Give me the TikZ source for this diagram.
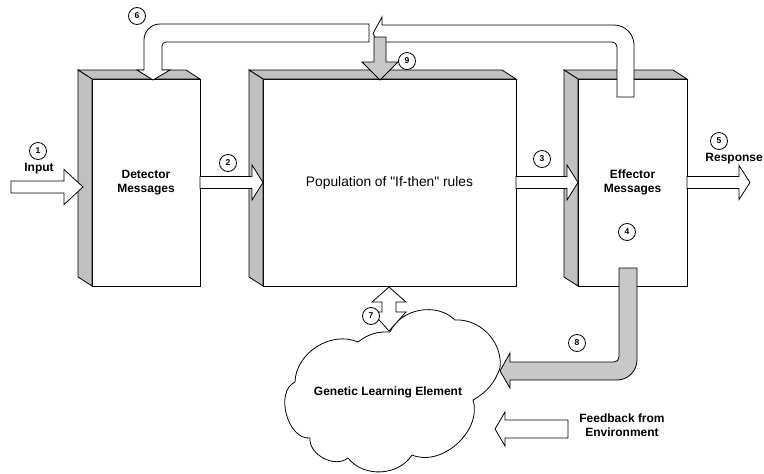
\documentclass[tikz,border=0pt]{standalone}
\usepackage{fontspec}
\setmainfont{Liberation Sans}[Ligatures=TeXOff]
\usetikzlibrary{calc}
\definecolor{sidegray}{RGB}{192,192,192}
\definecolor{dotgray}{RGB}{200,200,200}
\newcommand\rarrow[5]{\draw[blk] ($(#1)+(0,-#4)$) -- ($(#2)+(-#3,-#4)$) -- ($(#2)+(-#3,-#5)$) -- (#2) -- ($(#2)+(-#3,#5)$) -- ($(#2)+(-#3,#4)$) -- ($(#1)+(0,#4)$) -- cycle;}
\newcommand\bevelbox[1]{%
  \path[face] (#1.north west) -- ++(-14,-9) -- ($(#1.north east)+(-14,-9)$) -- (#1.north east) -- cycle;
  \path[face] (#1.north west) -- ++(-14,-9) -- ($(#1.south west)+(-14,-9)$) -- (#1.south west) -- cycle;}
\begin{document}
\begin{tikzpicture}[x=1pt,y=-1pt,line join=miter,
  box/.style={draw, fill=white, line width=0.8pt, rectangle, inner sep=0pt, outer sep=0pt, align=center},
  face/.style={draw, fill=sidegray, line width=0.8pt},
  blk/.style={draw, fill=white, line width=0.8pt},
  gblk/.style={draw, fill=dotgray, line width=0.8pt},
  numc/.style={circle, draw, fill=white, line width=0.8pt, minimum size=17pt, inner sep=0pt, font=\fontsize{8.5}{9}\selectfont\bfseries},
  lbl/.style={font=\fontsize{12}{14}\selectfont\bfseries, align=center, inner sep=0pt},
]
\useasboundingbox (0,0) rectangle (764,474);

% boxes
\node[box, lbl, minimum width=108pt, minimum height=207pt] (det) at (146,182.5) {Detector\\Messages};
\bevelbox{det}
\node[box, font=\fontsize{13.8}{16}\selectfont, minimum width=253pt, minimum height=207pt] (pop) at (389.5,182.5) {Population of "If-then" rules};
\bevelbox{pop}
\node[box, lbl, minimum width=109pt, minimum height=207pt] (eff) at (632.5,182.5) {Effector\\Messages};
\bevelbox{eff}

% cloud
\draw[blk] (390,332) to[bend left=55] (455,320) to[bend left=50] (500,368)
  to[bend left=20] (473,400) to[bend left=65] (412,455) to[bend left=55] (348,458)
  to[bend left=67] (310,438) to[bend left=80] (295,382) to[bend left=56] (358,342)
  to[bend left=20] (390,332) -- cycle;
\node[lbl] (gle) at (388,392) {Genetic Learning Element};

% arrow 6 (feedback loop), left piece
\draw[blk] (369,24) -- (160,24) .. controls (151.2,24) and (144,31.2) .. (144,40)
  -- (144,70) -- (137,70) -- (153,80) -- (170,70) -- (162,70) -- (162,46)
  .. controls (162,43.8) and (163.8,42) .. (166,42) -- (369,42) -- cycle;
% arrow 6, right piece
\draw[blk] (617,97) -- (617,47) .. controls (617,44.2) and (614.8,42) .. (612,42)
  -- (382,42) -- (382,50) -- (373,33.5) -- (382,17) -- (382,25) -- (614,25)
  .. controls (625,25) and (634,34) .. (634,45) -- (634,97) -- cycle;
% arrow 9
\draw[gblk] (374,37) -- (374,62) -- (362,62) -- (380,80) -- (398,62) -- (386,62) -- (386,37) -- cycle;

% horizontal arrows
\coordinate (inTail) at (11,187);
\coordinate (inTip) at (83,187);
\rarrow{inTail}{inTip}{19}{6}{17.5}
\rarrow{det.east}{pop.west}{11}{6}{17.5}
\rarrow{pop.east}{eff.west}{11}{6}{17.5}
\coordinate (respTip) at (750,182.5);
\rarrow{eff.east}{respTip}{11}{6}{17}

% arrow 7 (double)
\draw[blk] (389,287) -- (406,302) -- (396,302) -- (396,312) -- (406,312) -- (389,331)
  -- (372,312) -- (382,312) -- (382,302) -- (372,302) -- cycle;

% arrow 8 (gray bent)
\draw[gblk] (619,268) -- (619,357) .. controls (619,359.8) and (616.8,362) .. (614,362)
  -- (510,362) -- (510,353) -- (500,371) -- (510,388) -- (510,380) -- (617,380)
  .. controls (628,380) and (637,371) .. (637,360) -- (637,268) -- cycle;

% feedback from environment
\draw[blk] (568,420) -- (505,420) -- (505,412) -- (495,429) -- (505,446) -- (505,438) -- (568,438) -- cycle;
\node[lbl] (fb) at (622,425.5) {Feedback from\\Environment};

% labels
\node[lbl] (inlbl) at (39,169) {Input};
\node[lbl, anchor=east] (resp) at (763,159) {Response};

% numbered circles
\node[numc] (n1) at (38,151) {1};
\node[numc] (n2) at (228,163) {2};
\node[numc] (n3) at (542,159) {3};
\node[numc] (n4) at (627,232) {4};
\node[numc] (n5) at (719,141) {5};
\node[numc] (n6) at (137,16) {6};
\node[numc] (n7) at (371,316) {7};
\node[numc] (n8) at (577,343) {8};
\node[numc] (n9) at (407,61) {9};
\end{tikzpicture}
\end{document}
